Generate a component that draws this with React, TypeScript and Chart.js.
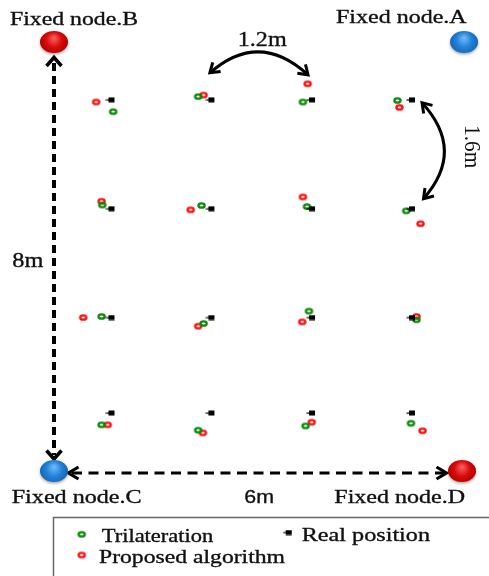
import React, { useEffect, useRef } from 'react';
import { Chart, registerables } from 'chart.js';

Chart.register(...registerables);

// ---- data (units: C→D = 0..6, C→B = 0..8) ----
const realX = [0.83, 2.30, 3.78, 5.25];
const realY = [6.94, 4.91, 2.88, 1.10];

const trilatX = [0.87, 2.12, 3.66, 5.05, 0.71, 2.17, 3.72, 5.18, 0.70, 2.20, 3.75, 5.33, 0.70, 2.12, 3.70, 5.25];
const trilatY = [6.72, 7.00, 6.90, 6.93, 4.98, 4.97, 4.95, 4.87, 2.90, 2.77, 3.00, 2.84, 0.88, 0.78, 0.86, 0.91];

const proposedX = [0.62, 2.20, 3.73, 5.08, 0.70, 2.01, 3.66, 5.39, 0.43, 2.12, 3.65, 5.33, 0.79, 2.19, 3.79, 5.42];
const proposedY = [6.90, 7.03, 7.24, 6.80, 5.05, 4.89, 5.13, 4.63, 2.88, 2.72, 2.80, 2.90, 0.88, 0.73, 0.93, 0.77];

const nodeNames = ['Fixed node.A', 'Fixed node.B', 'Fixed node.C', 'Fixed node.D'];
const nodeX = [6.03, 0, 0, 6];
const nodeY = [8, 8, 0, 0];
const nodeColors = ['blue', 'red', 'blue', 'red'];

const seriesLabels = ['Trilateration', 'Real position', 'Proposed algorithm'];
const spanLabels = ['1.2m', '1.6m', '8m', '6m'];

// ---- marker images ----
function ringImage(color: string) {
  const c = document.createElement('canvas');
  c.width = 11;
  c.height = 9;
  const g = c.getContext('2d')!;
  g.strokeStyle = color;
  g.lineWidth = 2.3;
  g.beginPath();
  g.ellipse(5.5, 4.5, 3.1, 2.2, 0, 0, Math.PI * 2);
  g.stroke();
  return c;
}

function squareImage() {
  const c = document.createElement('canvas');
  c.width = 10;
  c.height = 6;
  const g = c.getContext('2d')!;
  g.fillStyle = '#000';
  g.fillRect(3, 0.5, 6, 5);
  g.fillRect(0.5, 2.5, 3, 1.2);
  return c;
}

function nodeImage(kind: string) {
  const c = document.createElement('canvas');
  c.width = 34;
  c.height = 28;
  const g = c.getContext('2d')!;
  const grad = g.createRadialGradient(17, 9, 1, 17, 13, 16);
  if (kind === 'red') {
    grad.addColorStop(0, '#f45a5a');
    grad.addColorStop(0.45, '#d90b0b');
    grad.addColorStop(0.85, '#b30000');
    grad.addColorStop(1, '#7a0000');
  } else {
    grad.addColorStop(0, '#6cb6f4');
    grad.addColorStop(0.45, '#2282d8');
    grad.addColorStop(0.85, '#1666b6');
    grad.addColorStop(1, '#0c4080');
  }
  g.shadowColor = 'rgba(0,0,0,0.35)';
  g.shadowBlur = 3;
  g.shadowOffsetY = 1.5;
  g.fillStyle = grad;
  g.beginPath();
  g.ellipse(17, 13, 14, 11, 0, 0, Math.PI * 2);
  g.fill();
  return c;
}

// ---- drawing helpers ----
function fitText(ctx: CanvasRenderingContext2D, text: string, left: number, baseline: number, width: number, font: string) {
  ctx.save();
  ctx.font = font;
  ctx.textAlign = 'left';
  ctx.textBaseline = 'alphabetic';
  ctx.fillStyle = '#111';
  ctx.strokeStyle = '#111';
  ctx.lineWidth = 0.35;
  const w = ctx.measureText(text).width;
  ctx.translate(left, baseline);
  ctx.scale(width / w, 1);
  ctx.fillText(text, 0, 0);
  ctx.strokeText(text, 0, 0);
  ctx.restore();
}

function chevron(ctx: CanvasRenderingContext2D, tx: number, ty: number, dx: number, dy: number, len: number, half: number, lw: number) {
  const px = -dy, py = dx;
  ctx.save();
  ctx.setLineDash([]);
  ctx.lineWidth = lw;
  ctx.lineJoin = 'miter';
  ctx.strokeStyle = '#000';
  ctx.beginPath();
  ctx.moveTo(tx - dx * len + px * half, ty - dy * len + py * half);
  ctx.lineTo(tx, ty);
  ctx.lineTo(tx - dx * len - px * half, ty - dy * len - py * half);
  ctx.stroke();
  ctx.restore();
}

function curvedArrow(ctx: CanvasRenderingContext2D, x0: number, y0: number, cx: number, cy: number, x1: number, y1: number) {
  ctx.save();
  ctx.strokeStyle = '#000';
  ctx.lineWidth = 3;
  ctx.beginPath();
  ctx.moveTo(x0, y0);
  ctx.quadraticCurveTo(cx, cy, x1, y1);
  ctx.stroke();
  const ends: [number, number][] = [[x0, y0], [x1, y1]];
  for (const [ex, ey] of ends) {
    let dx = ex - cx, dy = ey - cy;
    const l = Math.hypot(dx, dy);
    dx /= l; dy /= l;
    chevron(ctx, ex, ey, dx, dy, 9, 6, 3);
  }
  ctx.restore();
}

export default function App() {
  const ref = useRef<HTMLCanvasElement>(null);

  useEffect(() => {
    document.body.style.margin = '0';
    const canvas = ref.current!;
    const green = ringImage('#078a07');
    const red = ringImage('#ff0d0d');
    const square = squareImage();
    const redNode = nodeImage('red');
    const blueNode = nodeImage('blue');
    const legendImgs = [green, square, red];

    const decor = {
      id: 'decor',
      beforeDatasetsDraw(chart: any) {
        const ctx: CanvasRenderingContext2D = chart.ctx;
        const xs = chart.scales.x, ys = chart.scales.y;
        const X = (v: number) => xs.getPixelForValue(v);
        const Y = (v: number) => ys.getPixelForValue(v);
        const bx = X(nodeX[1]), by = Y(nodeY[1]);
        const cx = X(nodeX[2]), cy = Y(nodeY[2]);
        const dx = X(nodeX[3]), dy = Y(nodeY[3]);

        ctx.save();
        ctx.strokeStyle = '#000';
        // vertical dashed arrow B <-> C
        ctx.lineWidth = 4;
        ctx.setLineDash([8, 5]);
        ctx.beginPath();
        ctx.moveTo(bx, by + 20);
        ctx.lineTo(cx, cy - 17);
        ctx.stroke();
        chevron(ctx, bx, by + 14.5, 0, -1, 8.5, 7.5, 3.5);
        chevron(ctx, cx, cy - 13, 0, 1, 8.5, 7.5, 3.5);
        // horizontal dashed arrow C <-> D
        ctx.lineWidth = 3.2;
        ctx.setLineDash([10, 6.5]);
        ctx.beginPath();
        ctx.moveTo(cx + 18, cy + 1);
        ctx.lineTo(dx - 18, dy + 1);
        ctx.stroke();
        chevron(ctx, cx + 14.5, cy + 1, -1, 0, 10, 6, 3.2);
        chevron(ctx, dx - 15.5, dy + 1, 1, 0, 10, 6, 3.2);
        ctx.restore();

        // 1.2m arc between columns 2 and 3
        const r0 = Y(realY[0]);
        const ax0 = X(realX[1]) - 0.5, ax1 = X(realX[2]) - 3;
        curvedArrow(ctx, ax0, r0 - 27, (ax0 + ax1) / 2, r0 - 70, ax1, r0 - 25);
        // 1.6m arc between rows 1 and 2
        const c4 = X(realX[3]);
        const y0 = Y(realY[0]) + 3, y1 = Y(realY[1]) - 10;
        curvedArrow(ctx, c4 + 11, y0, c4 + 55, (y0 + y1) / 2, c4 + 12.5, y1);
      },
      afterDraw(chart: any) {
        const ctx: CanvasRenderingContext2D = chart.ctx;
        const serif19 = '19px "Liberation Serif"';
        const serif21 = '21px "Liberation Serif"';
        // node labels
        fitText(ctx, nodeNames[1], 10, 25, 128, serif19);
        fitText(ctx, nodeNames[0], 336, 22.7, 130.7, serif19);
        fitText(ctx, nodeNames[2], 11.7, 503.3, 130, serif19);
        fitText(ctx, nodeNames[3], 334.3, 503.3, 130.7, serif19);
        // span labels
        fitText(ctx, spanLabels[0], 237.7, 46, 49, serif21);
        fitText(ctx, spanLabels[2], 12.3, 266.7, 31, serif21);
        fitText(ctx, spanLabels[3], 244.3, 503, 29.7, '19px "Liberation Sans"');
        // rotated 1.6m
        ctx.save();
        ctx.font = '20px "Liberation Serif"';
        ctx.fillStyle = '#111';
        ctx.textBaseline = 'alphabetic';
        const w = ctx.measureText(spanLabels[1]).width;
        ctx.translate(465, 125);
        ctx.scale(1.15, 1);
        ctx.rotate(Math.PI / 2);
        ctx.scale(43.3 / w, 1);
        ctx.fillText(spanLabels[1], 0, 0);
        ctx.restore();

        // legend
        ctx.save();
        ctx.strokeStyle = '#666';
        ctx.lineWidth = 1.5;
        ctx.strokeRect(53.5, 517.5, 480, 100);
        ctx.restore();
        const items = [
          { mx: 81.7, my: 534.3, tl: 101.7, tb: 541.7, tw: 111.6 },
          { mx: 287.7, my: 532.5, tl: 301.7, tb: 541, tw: 128.3 },
          { mx: 81.7, my: 555, tl: 99, tb: 562.7, tw: 186 },
        ];
        items.forEach((it, i) => {
          const img = legendImgs[i];
          ctx.drawImage(img, it.mx - img.width / 2, it.my - img.height / 2);
          fitText(ctx, seriesLabels[i], it.tl, it.tb, it.tw, serif19);
        });
      },
    };

    const realPts = realY.flatMap((yv) => realX.map((xv) => ({ x: xv, y: yv })));
    const trilatPts = trilatX.map((xv, i) => ({ x: xv, y: trilatY[i] }));
    const propPts = proposedX.map((xv, i) => ({ x: xv, y: proposedY[i] }));
    const nodePts = nodeX.map((xv, i) => ({ x: xv, y: nodeY[i] }));

    const chart = new Chart(canvas, {
      type: 'scatter',
      data: {
        datasets: [
          { label: seriesLabels[1], data: realPts, pointStyle: square as any, pointRadius: 4, clip: false } as any,
          { label: seriesLabels[0], data: trilatPts, pointStyle: green as any, pointRadius: 4, clip: false } as any,
          { label: seriesLabels[2], data: propPts, pointStyle: red as any, pointRadius: 4, clip: false } as any,
          {
            label: 'Fixed nodes',
            data: nodePts,
            pointStyle: nodeColors.map((c) => (c === 'red' ? redNode : blueNode)) as any,
            pointRadius: 14,
            clip: false,
          } as any,
        ],
      },
      options: {
        responsive: false,
        animation: false,
        events: [],
        layout: { padding: { left: 54, right: 27, top: 43, bottom: 104 } },
        scales: {
          x: { type: 'linear', min: 0, max: 6, display: false },
          y: { type: 'linear', min: 0, max: 8, display: false },
        },
        plugins: { legend: { display: false }, tooltip: { enabled: false } },
      },
      plugins: [decor as any],
    });
    return () => chart.destroy();
  }, []);

  return (
    <div style={{ width: 489, height: 576, background: '#fff' }}>
      <canvas ref={ref} width={489} height={576} style={{ display: 'block', width: 489, height: 576 }} />
    </div>
  );
}
